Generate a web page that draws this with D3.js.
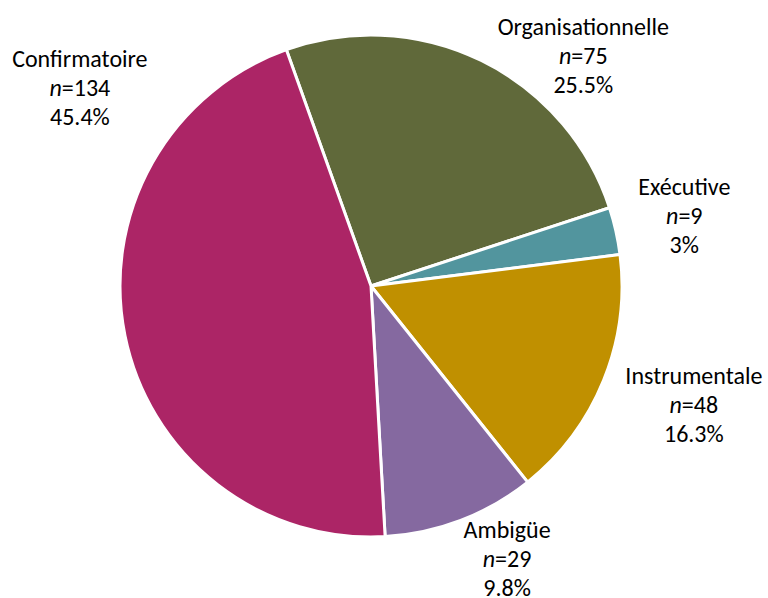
<!DOCTYPE html>
<html>
<head>
<meta charset="utf-8">
<script src="https://cdn.jsdelivr.net/npm/d3@7"></script>
<style>
  body { margin: 0; background: #fff; }
  text { font-family: Carlito, Lato, "Open Sans", sans-serif; font-size: 24px; fill: #000; }
</style>
</head>
<body>
<div id="container"></div>
<script>
let w = 768;
let h = 598;

// data
let categories = ["Organisationnelle", "Exécutive", "Instrumentale", "Ambigüe", "Confirmatoire"];
let counts = [75, 9, 48, 29, 134];
let pctLabels = ["25.5%", "3%", "16.3%", "9.8%", "45.4%"];
let colors = ["#60693A", "#52959E", "#C09000", "#8569A0", "#AC2566"];

// label anchors (angle in degrees from top, distance from center)
let labelAngle = [42.7, 77.4, 110.2, 153.5, 304.2];
let labelDist = [313, 321, 344, 305, 352];

let cx = 371, cy = 286, r = 251;
let startDeg = -19.7;

let viz = d3.select("#container").append("svg")
    .attr("width", w)
    .attr("height", h)
;

let pie = d3.pie()
    .sort(null)
    .value(d => d.n)
    .startAngle(startDeg * Math.PI / 180)
    .endAngle(startDeg * Math.PI / 180 + 2 * Math.PI)
;

let data = categories.map((c, i) => ({name: c, n: counts[i], pct: pctLabels[i], color: colors[i], i: i}));

let arc = d3.arc().innerRadius(0).outerRadius(r);

let g = viz.append("g").attr("transform", "translate(" + cx + "," + cy + ")");

g.selectAll(".slice").data(pie(data)).enter()
  .append("path")
    .attr("class", "slice")
    .attr("d", arc)
    .attr("fill", d => d.data.color)
    .attr("stroke", "white")
    .attr("stroke-width", 3)
    .attr("stroke-linejoin", "round")
;

let labels = g.selectAll(".lbl").data(data).enter()
  .append("text")
    .attr("class", "lbl")
    .attr("text-anchor", "middle")
    .attr("transform", function(d) {
      let a = labelAngle[d.i] * Math.PI / 180;
      let x = Math.sin(a) * labelDist[d.i];
      let y = -Math.cos(a) * labelDist[d.i];
      return "translate(" + x + "," + y + ")";
    })
;

labels.append("tspan").attr("x", 0).attr("y", -21).text(d => d.name);
let l2 = labels.append("tspan").attr("x", 0).attr("y", 8);
l2.append("tspan").attr("font-style", "italic").text("n");
l2.append("tspan").text(d => "=" + d.n);
labels.append("tspan").attr("x", 0).attr("y", 37).text(d => d.pct);
</script>
</body>
</html>
